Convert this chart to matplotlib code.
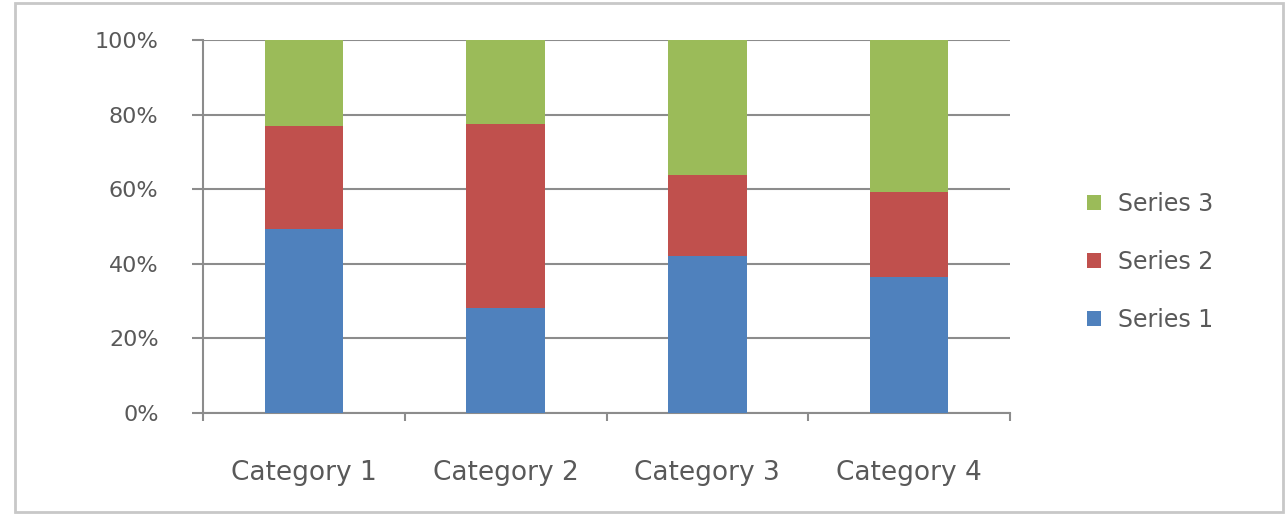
import numpy as np
import matplotlib.pyplot as plt
from matplotlib.patches import Rectangle

categories = ["Category 1", "Category 2", "Category 3", "Category 4"]
series1 = [4.3, 2.5, 3.5, 4.5]
series2 = [2.4, 4.4, 1.8, 2.8]
series3 = [2.0, 2.0, 3.0, 5.0]
series_names = ["Series 1", "Series 2", "Series 3"]
colors = ["#4F81BD", "#C0504D", "#9BBB59"]

txt = "#595959"
grid = "#8C8C8C"

data = np.array([series1, series2, series3], dtype=float)
pct = data / data.sum(axis=0) * 100

fig = plt.figure(figsize=(12.88, 5.15), dpi=100)
fig.patches.append(Rectangle((15 / 1288, 3 / 515), 1268 / 1288, 509 / 515,
                             transform=fig.transFigure, fill=False,
                             edgecolor="#C8C8C8", lw=2))
ax = fig.add_axes([203 / 1288, 1 - 413 / 515, 807 / 1288, 373 / 515])

x = np.arange(len(categories))
bottom = np.zeros(len(categories))
for i in range(3):
    ax.bar(x, pct[i], 0.39, bottom=bottom, color=colors[i],
           label=series_names[i], zorder=3)
    bottom += pct[i]

ax.set_xlim(-0.5, 3.5)
ax.set_ylim(0, 100)
ax.set_yticks(np.arange(0, 101, 20))
ax.set_yticklabels([f"{v}%" for v in range(0, 101, 20)])
ax.yaxis.grid(True, color=grid, lw=1.5, zorder=0)
ax.set_xticks(x)
ax.set_xticklabels(categories)
ax.set_xticks(np.arange(-0.5, 4, 1), minor=True)
ax.tick_params(axis="x", which="major", length=0, pad=34, labelsize=19, labelcolor=txt)
ax.tick_params(axis="x", which="minor", length=6, color=grid, width=1.5)
ax.tick_params(axis="y", length=8, color=grid, width=1.5, labelsize=16,
               labelcolor=txt, pad=24)
for s in ["top", "right"]:
    ax.spines[s].set_visible(False)
for s in ["left", "bottom"]:
    ax.spines[s].set_color(grid)
    ax.spines[s].set_linewidth(1.5)

h, l = ax.get_legend_handles_labels()
fig.legend(h[::-1], l[::-1], loc="center left", bbox_to_anchor=(1066 / 1288, 1 - 262 / 515),
           frameon=False, fontsize=17, labelcolor=txt, handlelength=0.6,
           handleheight=0.6, handletextpad=0.7, labelspacing=1.45)

fig.savefig("out.png", dpi=100)
